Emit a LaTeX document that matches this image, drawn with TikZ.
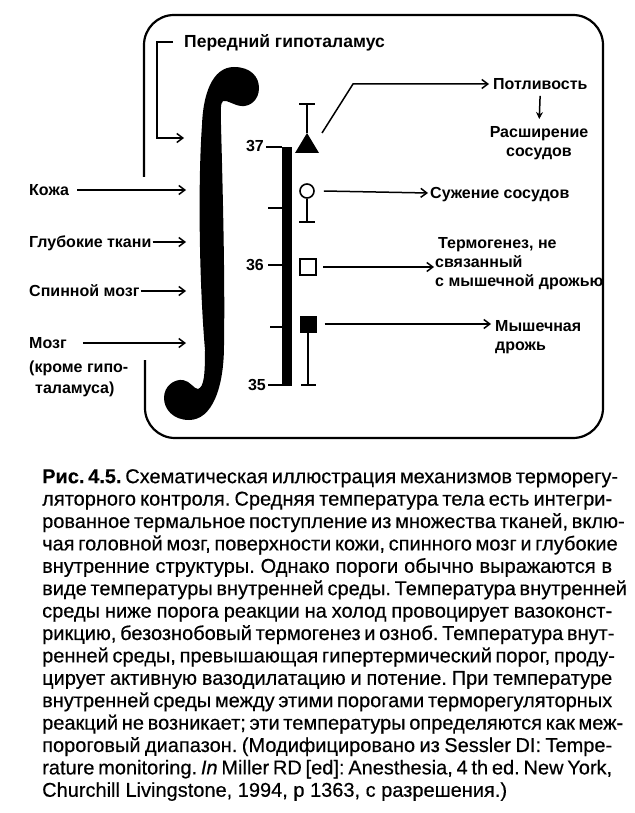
\documentclass[tikz,border=0pt]{standalone}
\usepackage{fontspec}
\setmainfont{Liberation Sans}
\newfontfamily\capfont[FakeBold=0.35]{Liberation Sans}
\usetikzlibrary{arrows.meta}
\newcommand\capl[1]{\hbox to \hsize{#1}}
\begin{document}
\begin{tikzpicture}[x=1pt,y=-1pt,
  lbl/.style={font=\fontsize{16}{19}\selectfont\bfseries, inner sep=0pt, text height=11.4pt, text depth=0pt},
  mlbl/.style={font=\fontsize{16}{19}\selectfont\bfseries, inner sep=0pt, align=left},
  num/.style={font=\fontsize{16}{19}\selectfont\bfseries, inner sep=0pt},
  arr/.style={line width=1.5pt, -{Straight Barb[length=6pt,width=9pt,line width=1.5pt]}},
  frame/.style={line width=2.2pt, rounded corners=30pt},
  tickln/.style={line width=1.6pt},
]
\useasboundingbox (0,0) rectangle (634,813);
\fill[white] (0,0) rectangle (634,813);

% frame (open on the left where the inputs enter)
\draw[frame] (144,177) -- (144,15) -- (603,15) -- (603,438) -- (145,438) -- (145,360);

% integral sign
\fill (202,125) .. controls (203,95) and (212,67) .. (234,67)
  .. controls (251,67) and (259,77) .. (259,88)
  .. controls (259,100) and (250,107) .. (241,106)
  .. controls (233,105) and (228,100) .. (223,101)
  .. controls (220,103) and (221,112) .. (221,125)
  .. controls (223,200) and (225,280) .. (224,345)
  .. controls (224,388) and (212,420) .. (189,420)
  .. controls (173,420) and (164,409) .. (164,398)
  .. controls (164,386) and (174,379) .. (183,380)
  .. controls (190,381) and (194,389) .. (198,389)
  .. controls (204,387) and (205,375) .. (205,350)
  .. controls (199,280) and (198,180) .. (202,125) -- cycle;

% anterior hypothalamus
\node[lbl, font=\fontsize{17.5}{20}\selectfont\bfseries, anchor=west] (hypo) at (184,42) {Передний гипоталамус};
\coordinate (intA) at (184,138);
\draw[arr] ([xshift=-11pt]hypo.west) -- ++(-16,0) |- (intA);

% inputs
\coordinate (intx) at (186,0);
\node[lbl, anchor=west] (koza) at (29,190) {Кожа};
\node[lbl, anchor=west] (tkani) at (29,242) {Глубокие ткани};
\node[lbl, anchor=west] (spin) at (29,291) {Спинной мозг};
\node[lbl, anchor=west] (mozg) at (29,343) {Мозг};
\node[mlbl, anchor=north west, font=\fontsize{16}{21}\selectfont\bfseries] (krome) at (29,361) {(кроме гипо-\\\hspace*{6pt}таламуса)};
\draw[arr] ([xshift=8pt]koza.east) -- (koza.east -| intx);
\draw[arr] ([xshift=1pt]tkani.east) -- (tkani.east -| intx);
\draw[arr] ([xshift=1pt]spin.east) -- (spin.east -| intx);
\draw[arr] ([xshift=16pt]mozg.east) -- (mozg.east -| intx);

% thermometer scale
\fill (282,147) rectangle (292,386);
\draw[tickln] (266,147) -- (282,147);
\draw[tickln] (268,208) -- (282,208);
\draw[tickln] (268,265) -- (282,265);
\draw[tickln] (270,327) -- (282,327);
\draw[tickln] (268,385) -- (282,385);
\node[num, anchor=east] (t37) at (264,146) {37};
\node[num, anchor=east] (t36) at (264,265) {36};
\node[num, anchor=east] (t35) at (266,385) {35};

% threshold symbols
\fill (307,133) -- (319,153) -- (295,153) -- cycle;
\coordinate (triA) at (307,133);
\draw[tickln] (triA) -- (307,104);
\draw[tickln] (299,104) -- (315,104);
\node[circle, draw, line width=1.6pt, minimum size=14pt, inner sep=0pt] (circ) at (307,191) {};
\draw[tickln] (circ.south) -- (307,222);
\draw[tickln] (299,222) -- (315,222);
\node[draw, line width=2.2pt, minimum size=16pt, inner sep=0pt] (osq) at (308,267) {};
\node[fill, minimum size=17pt, inner sep=0pt] (fsq) at (308,324) {};
\draw[tickln] (fsq.south) -- (308,385);
\draw[tickln] (301,385) -- (316,385);

% responses
\node[lbl, anchor=west] (potl) at (493,84) {Потливость};
\node[mlbl, align=center, anchor=north] (rassh) at (539,126) {Расширение\\сосудов};
\node[lbl, anchor=west] (suzh) at (430,193) {Сужение сосудов};
\node[mlbl, anchor=west] (therm) at (435,264) {\hspace*{3pt}Термогенез, не\\связанный\\с мышечной дрожью};
\node[mlbl, anchor=north west] (drozh) at (495,320) {Мышечная\\дрожь};

\coordinate (triTip) at (322,133);
\coordinate (bend) at (353,84);
\draw[arr] (triTip) -- (bend) -- ([xshift=-4pt]potl.west);
\draw[line width=1.5pt, -{Stealth[length=7pt,width=7pt]}, shorten <=6pt, shorten >=7pt] (potl.south) -- (rassh.north);
\draw[arr] ([xshift=9pt]circ.east) -- ([xshift=-2pt]suzh.west);
\draw[arr] ([xshift=6pt]osq.east) -- ([xshift=-1pt]osq.east -| therm.west);
\draw[arr] ([xshift=8pt]fsq.east) -- ([xshift=-4pt]fsq.east -| drozh.west);

% caption
\node[inner sep=0pt, anchor=north west] (cap) at (42,469) {\vbox{\hsize=570pt \capfont\fontsize{20}{22.4}\selectfont \baselineskip=22.4pt \frenchspacing
\capl{{\bfseries Рис. 4.5.} Схематическая иллюстрация механизмов терморегу-}
\capl{ляторного контроля. Средняя температура тела есть интегри-}
\capl{рованное термальное поступление из множества тканей, вклю-}
\capl{чая головной мозг, поверхности кожи, спинного мозг и глубокие}
\capl{внутренние структуры. Однако пороги обычно выражаются в}
\capl{виде температуры внутренней среды. Температура внутренней}
\capl{среды ниже порога реакции на холод провоцирует вазоконст-}
\capl{рикцию, безознобовый термогенез и озноб. Температура внут-}
\capl{ренней среды, превышающая гипертермический порог, проду-}
\capl{цирует активную вазодилатацию и потение. При температуре}
\capl{внутренней среды между этими порогами терморегуляторных}
\capl{реакций не возникает; эти температуры определяются как меж-}
\capl{пороговый диапазон. (Модифицировано из Sessler DI: Tempe-}
\capl{rature monitoring. \textit{In} Miller RD [ed]: Anesthesia, 4 th ed. New York,}
\hbox{Churchill Livingstone, 1994, p 1363, с разрешения.)}
}};
\end{tikzpicture}
\end{document}
